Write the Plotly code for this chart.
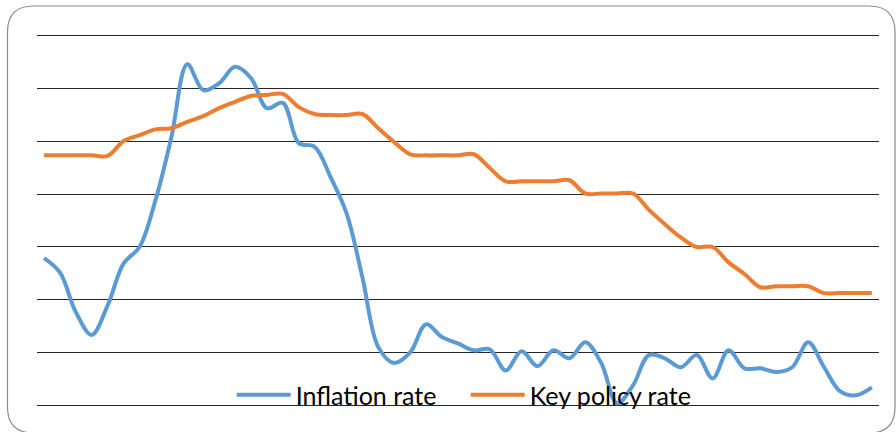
import plotly.graph_objects as go

# --- data ---
periods = list(range(53))

inflation_rate = [
    2.79, 2.52, 1.77, 1.34, 1.90, 2.69, 3.00, 3.88, 5.07, 6.45,
    5.96, 6.09, 6.40, 6.19, 5.62, 5.72, 4.96, 4.89, 4.32, 3.64,
    2.43, 1.11, 0.81, 1.01, 1.54, 1.30, 1.18, 1.05, 1.07, 0.67,
    1.03, 0.75, 1.05, 0.90, 1.20, 0.81, 0.05, 0.39, 0.96, 0.90,
    0.73, 0.96, 0.52, 1.05, 0.71, 0.71, 0.64, 0.73, 1.20, 0.73,
    0.28, 0.20, 0.35,
]

key_policy_rate = [
    4.73, 4.73, 4.73, 4.73, 4.72, 5.00, 5.11, 5.22, 5.24, 5.36,
    5.47, 5.62, 5.74, 5.85, 5.87, 5.89, 5.64, 5.51, 5.49, 5.49,
    5.51, 5.24, 4.98, 4.75, 4.73, 4.73, 4.73, 4.75, 4.49, 4.24,
    4.24, 4.24, 4.24, 4.26, 4.01, 4.01, 4.01, 4.01, 3.70, 3.43,
    3.18, 3.00, 3.00, 2.71, 2.49, 2.24, 2.26, 2.26, 2.26, 2.13,
    2.13, 2.13, 2.13,
]

series_names = ["Inflation rate", "Key policy rate"]
series_colors = ["#5B9BD5", "#ED7D31"]

W, H = 896, 432
ML, MR, MT, MB = 37, 17, 34, 25
PW, PH = W - ML - MR, H - MT - MB

fig = go.Figure()
for name, vals, col in zip(series_names, [inflation_rate, key_policy_rate], series_colors):
    fig.add_trace(go.Scatter(
        x=periods, y=vals, name=name, mode="lines",
        line=dict(color=col, width=4, shape="spline", smoothing=1.0),
        hoverinfo="skip",
    ))

# rounded chart-area frame, expressed in paper coordinates
def px(X):
    return (X - ML) / PW

def py(Y):
    return (H - MB - Y) / PH

x0, y0, x1, y1, r = 7.5, 6.0, 895.0, 433.0, 26.0
path = (
    f"M{px(x0 + r)},{py(y0)} L{px(x1 - r)},{py(y0)} "
    f"Q{px(x1)},{py(y0)} {px(x1)},{py(y0 + r)} "
    f"L{px(x1)},{py(y1 - r)} Q{px(x1)},{py(y1)} {px(x1 - r)},{py(y1)} "
    f"L{px(x0 + r)},{py(y1)} Q{px(x0)},{py(y1)} {px(x0)},{py(y1 - r)} "
    f"L{px(x0)},{py(y0 + r)} Q{px(x0)},{py(y0)} {px(x0 + r)},{py(y0)} Z"
)
fig.add_shape(type="path", path=path, xref="paper", yref="paper",
              line=dict(color="#8c8c8c", width=1.2), layer="below")

fig.update_layout(
    width=W, height=H,
    margin=dict(l=ML, r=MR, t=MT, b=MB, pad=0),
    paper_bgcolor="white", plot_bgcolor="white",
    font=dict(family="Lato", color="#000000"),
    showlegend=True,
    legend=dict(
        orientation="h", x=px(231.7), xanchor="left",
        y=py(395), yanchor="middle",
        bgcolor="rgba(0,0,0,0)", borderwidth=0,
        font=dict(family="Lato", size=25, color="#000000"),
        itemwidth=54,
        entrywidth=165, entrywidthmode="pixels",
    ),
    xaxis=dict(range=[-0.44, 52.45], showgrid=False, zeroline=False,
               showticklabels=False, ticks="", showline=False, fixedrange=True),
    yaxis=dict(range=[-0.02, 7.02], dtick=1, tick0=0, showgrid=True,
               gridcolor="#262626", gridwidth=1.2, zeroline=False,
               showticklabels=False, ticks="", showline=False, fixedrange=True),
)

fig.write_html(
    "out.html",
    config={"displayModeBar": False},
    post_script="document.body.style.margin='0';document.body.style.overflow='hidden';",
)
